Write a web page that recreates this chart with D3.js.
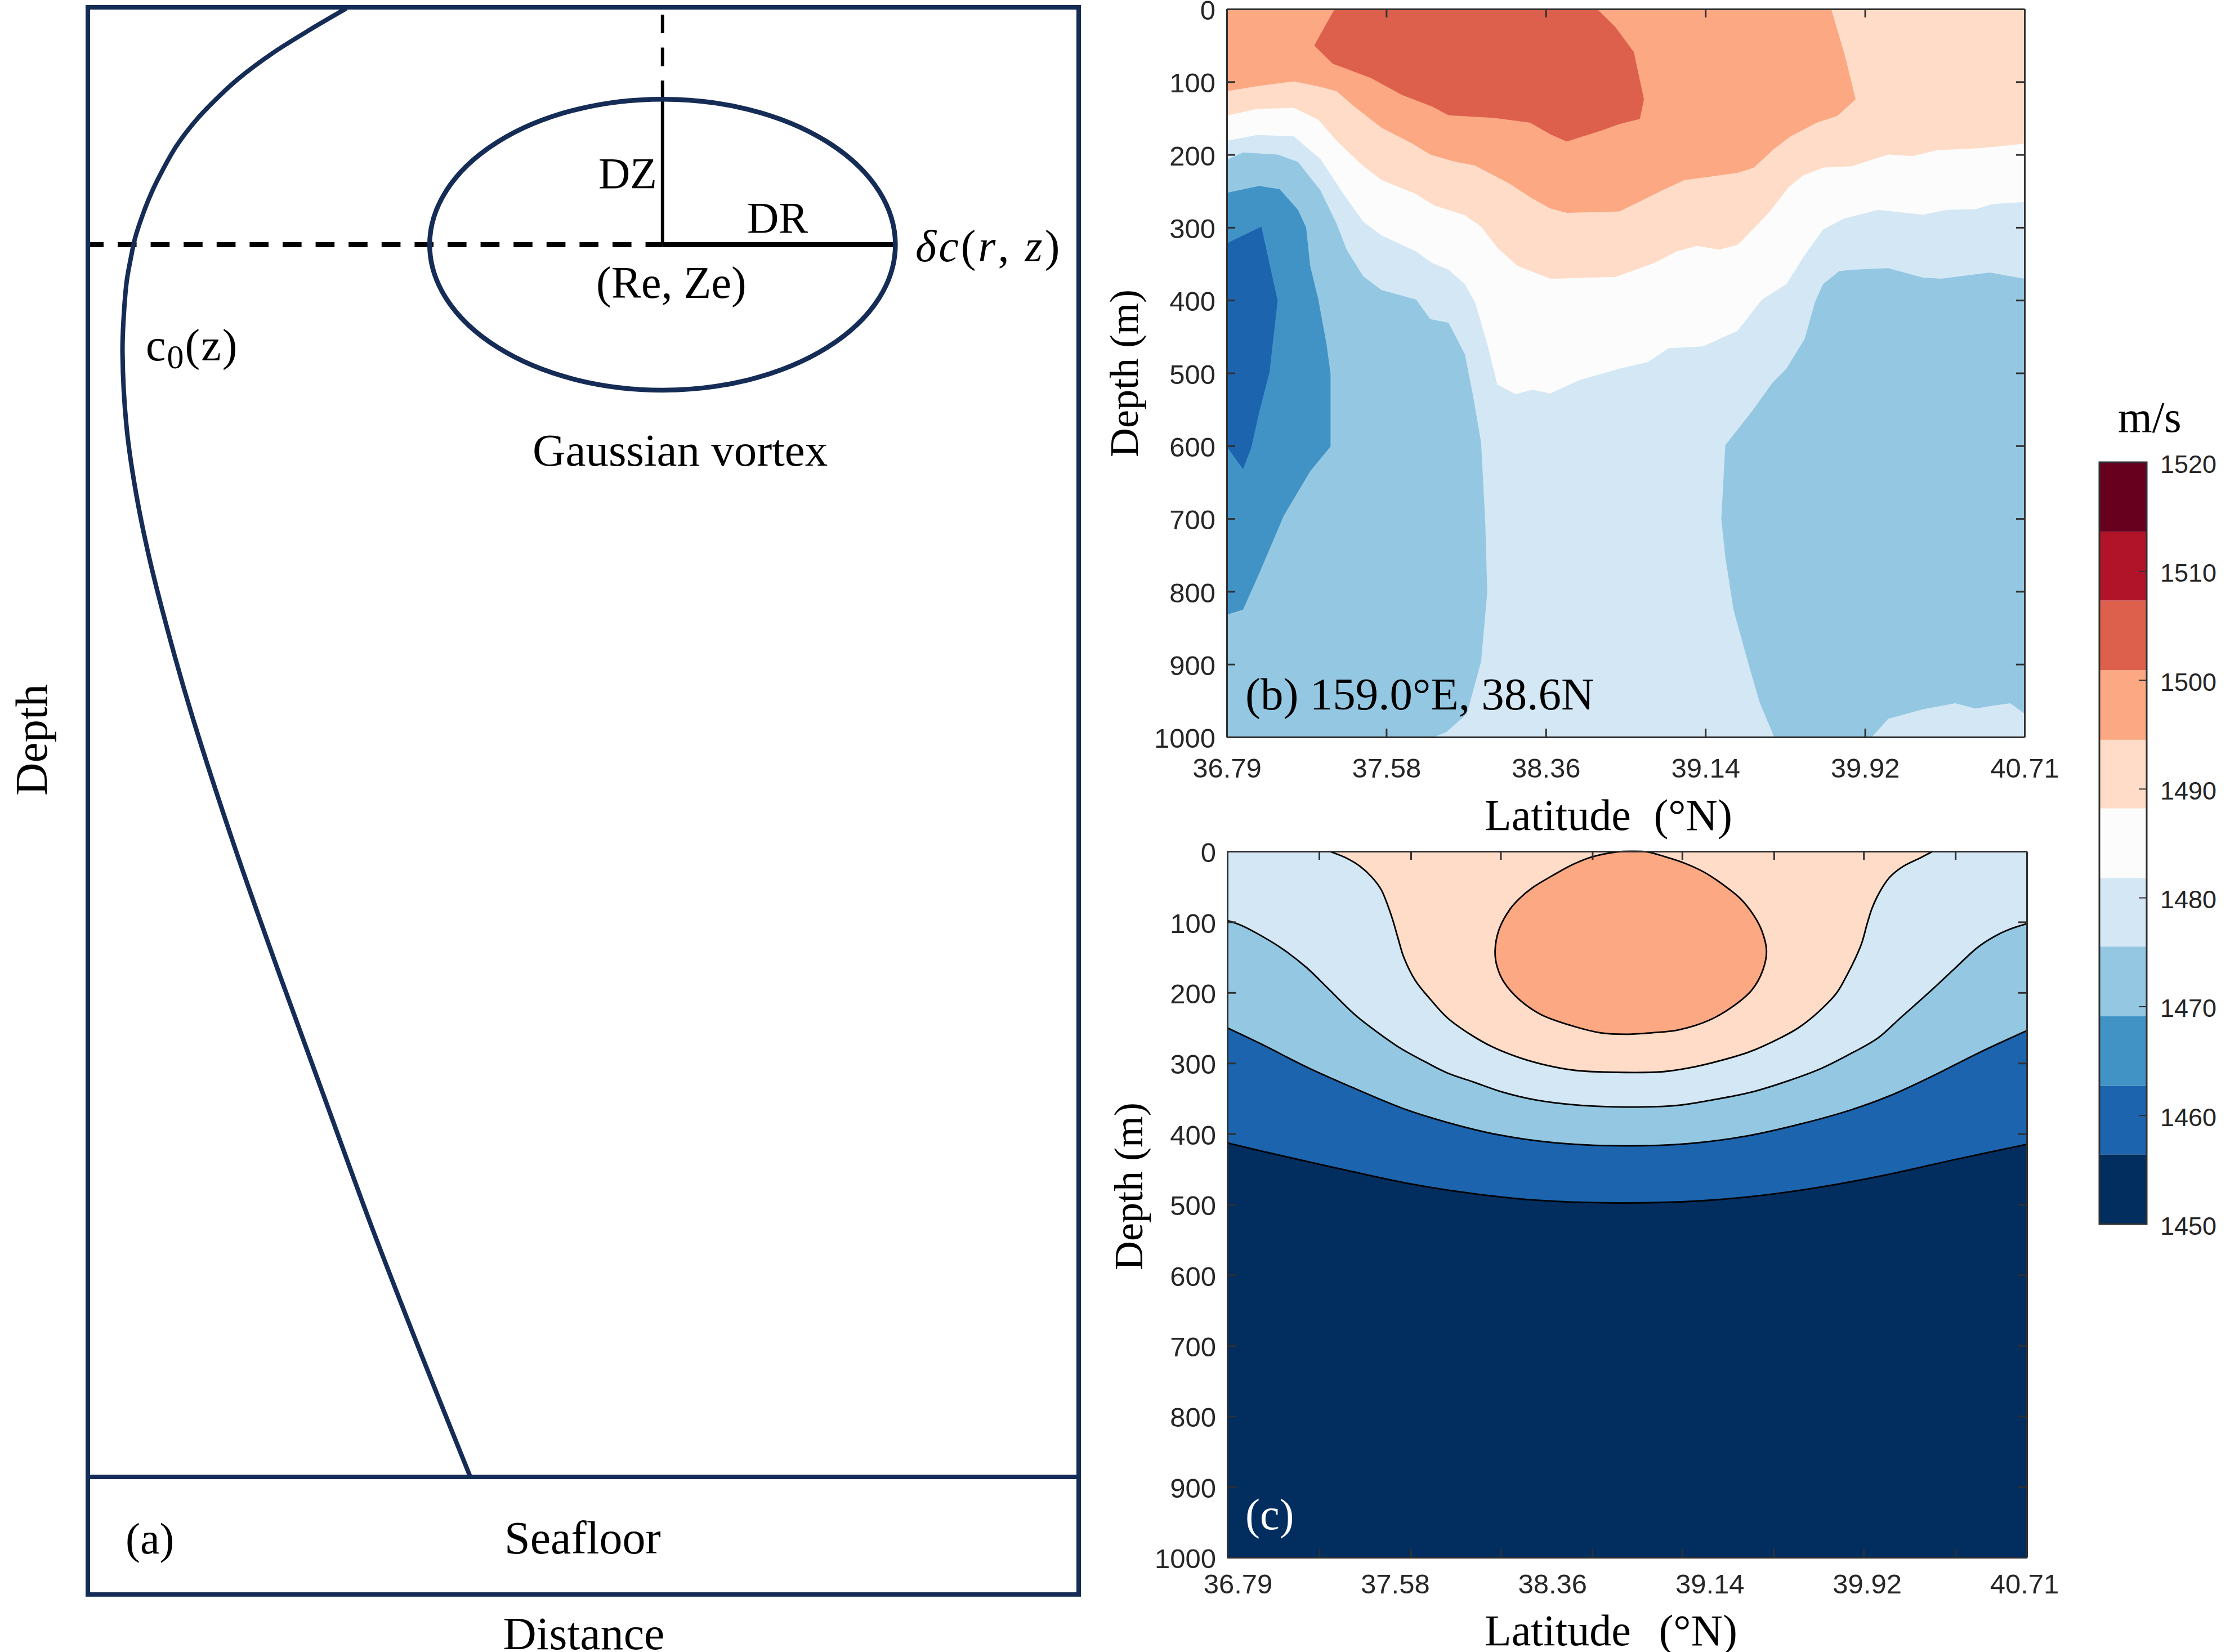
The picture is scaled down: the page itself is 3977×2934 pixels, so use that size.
<!DOCTYPE html>
<html>
<head>
<meta charset="utf-8">
<script src="https://cdn.jsdelivr.net/npm/d3@7"></script>
<style>
  body { margin: 0; background: #fff; }
  text { font-family: "Liberation Serif", serif; fill: #000; white-space: pre; }
  .tick text { font-family: "Liberation Sans", sans-serif; font-size: 49px; fill: #262626; }
  .cbar-label { font-family: "Liberation Sans", sans-serif; font-size: 45px; fill: #262626; }
</style>
</head>
<body>
<svg id="fig" width="3977" height="2934"></svg>
<script>
// colour bands, low to high, and their edges in m/s
const bandColors = ["#022d5f", "#1c64ae", "#4193c6", "#94c8e2", "#d4e7f4", "#fcfcfc", "#fedcc8", "#fba883", "#dc604c", "#b11429", "#67001f"];
const bandEdges = [1450, 1456.4, 1462.7, 1469.1, 1475.5, 1481.8, 1488.2, 1494.5, 1500.9, 1507.3, 1513.6, 1520];
const cbarTicks = [1450, 1460, 1470, 1480, 1490, 1500, 1510, 1520];

const latTicksB = [36.79, 37.574, 38.358, 39.142, 39.926, 40.71];
const latLabels = ["36.79", "37.58", "38.36", "39.14", "39.92", "40.71"];
const latTicksC = [36.79, 37.24, 37.69, 38.13, 38.58, 39.02, 39.47, 39.91, 40.36];
const depthTicks = [0, 100, 200, 300, 400, 500, 600, 700, 800, 900, 1000];

// panel (a) schematic, both axes in percent of the box above the seafloor
const c0Profile = [[26.08, 0.08], [22.4, 1.53], [18.6, 3.14], [15.17, 4.87], [12.9, 6.28], [10.85, 7.74], [8.92, 9.46], [7.61, 11.0], [6.48, 12.53], [5.63, 13.95], [4.77, 15.7],
  [4.32, 17.13], [3.92, 18.66], [3.6, 21.3], [3.5, 23.5], [3.9, 28.5], [4.85, 33.0], [6.25, 37.6], [8.75, 44.1], [10.7, 48.6], [14.9, 57.3], [19.5, 66.1], [24.1, 74.6], [28.6, 82.9], [33.2, 90.9], [38.6, 100]];
const vortexCentre = [58, 16.15];
const vortexRadius = [23.5, 9.9];
const boxBottom = 108;

// panel (b) filled contours, [latitude, depth]
const bRed = [[37.32, 0], [37.28, 20], [37.22, 50], [37.31, 75], [37.50, 95], [37.65, 118], [37.80, 134], [37.88, 146], [38.10, 149.5], [38.28, 156], [38.38, 172], [38.46, 182],
  [38.62, 168], [38.72, 158], [38.82, 151], [38.84, 124], [38.79, 59], [38.70, 25], [38.61, 0]];
const bPeach = [[36.79, 113], [36.94, 106], [37.12, 99.4], [37.25, 107], [37.33, 113], [37.42, 134.5], [37.55, 163], [37.70, 184.5], [37.79, 200], [37.91, 209.6], [38.01, 215],
  [38.18, 240], [38.29, 260], [38.38, 274], [38.46, 280], [38.72, 278], [38.83, 263], [38.93, 249], [39.04, 235], [39.17, 230], [39.30, 225], [39.38, 218], [39.48, 192],
  [39.56, 175], [39.69, 156], [39.79, 147], [39.88, 124], [39.83, 66.5], [39.76, 0], [40.71, 0], [40.71, 1000], [36.79, 1000]];
const bWhite = [[36.79, 146.6], [36.94, 137], [37.12, 136], [37.24, 152], [37.33, 181], [37.45, 213], [37.55, 235], [37.72, 254], [37.81, 270], [37.96, 283], [38.04, 299],
  [38.12, 328], [38.22, 353], [38.38, 370.5], [38.70, 368], [38.89, 349], [39.00, 333], [39.10, 325.5], [39.21, 330.5], [39.30, 324], [39.45, 281], [39.55, 245], [39.62, 229],
  [39.72, 218], [39.86, 216], [40.04, 200], [40.16, 202], [40.28, 194], [40.50, 191], [40.71, 185], [40.71, 1000], [36.79, 1000]];
const bPale = [[36.79, 181], [36.94, 173], [37.12, 175], [37.25, 206], [37.36, 252.5], [37.46, 292], [37.55, 311], [37.72, 333], [37.80, 349], [37.88, 358], [37.96, 378],
  [38.01, 403], [38.07, 460], [38.12, 516], [38.21, 529], [38.29, 523], [38.38, 528], [38.53, 509], [38.72, 494], [38.86, 485], [38.96, 466], [39.13, 463.5], [39.30, 442],
  [39.42, 399], [39.54, 378], [39.63, 338], [39.72, 303], [39.82, 288], [39.99, 276], [40.21, 282.5], [40.33, 276], [40.47, 275], [40.55, 268], [40.71, 265], [40.71, 1000], [36.79, 1000]];
const bSkyLeft = [[36.79, 207], [36.87, 197], [37.04, 200], [37.14, 210], [37.25, 249], [37.33, 295], [37.38, 331], [37.46, 367], [37.55, 386], [37.72, 399], [37.79, 426], [37.88, 431],
  [37.96, 474], [38.00, 531], [38.04, 596], [38.06, 703], [38.07, 801], [38.04, 896], [37.97, 968], [37.87, 993], [37.81, 1000], [36.79, 1000]];
const bSkyRight = [[39.48, 1000], [39.41, 953.5], [39.35, 896], [39.28, 825], [39.24, 753], [39.22, 700], [39.24, 599], [39.37, 553], [39.47, 514], [39.54, 494], [39.63, 453], [39.68, 403],
  [39.72, 378], [39.80, 360], [39.87, 358], [40.04, 356], [40.21, 369], [40.30, 370.5], [40.54, 362], [40.71, 370.5], [40.71, 968], [40.64, 953.5], [40.55, 957], [40.47, 961],
  [40.37, 953.5], [40.21, 962], [40.04, 975], [39.96, 1000]];
const bMid = [[36.79, 252.5], [36.95, 243], [37.05, 247.5], [37.14, 276], [37.18, 300], [37.20, 353], [37.24, 399], [37.28, 460], [37.30, 501], [37.30, 601], [37.20, 635], [37.07, 696],
  [36.95, 775], [36.87, 825], [36.79, 832]];
const bDeep = [[36.79, 322], [36.96, 299], [37.04, 400.5], [37.00, 499], [36.95, 553], [36.91, 603], [36.87, 632], [36.79, 601]];

// panel (c) contour lines, [latitude, depth]
const cLine1 = [[36.79, 413], [37.07, 432], [37.38, 452], [37.69, 471], [38.00, 485], [38.30, 494], [38.70, 498], [39.11, 495], [39.42, 487], [39.73, 474], [40.04, 457], [40.35, 437], [40.71, 415]];
const cLine2 = [[36.79, 250], [36.95, 272], [37.19, 307], [37.40, 334], [37.65, 364], [37.87, 384], [38.12, 401.5], [38.37, 412], [38.70, 417], [39.05, 414], [39.34, 403], [39.61, 385.5],
  [39.85, 366], [40.04, 346], [40.25, 318], [40.47, 286], [40.71, 254]];
const cLine3 = [[36.79, 98], [36.86, 105], [36.95, 118.5], [37.06, 138], [37.18, 165], [37.28, 193], [37.42, 232.5], [37.53, 257], [37.64, 279], [37.75, 296.5], [37.87, 314], [38.00, 327],
  [38.14, 341], [38.30, 352], [38.49, 359], [38.70, 362], [38.99, 360], [39.17, 352], [39.36, 341], [39.54, 325], [39.69, 309], [39.83, 289], [39.98, 264.5], [40.09, 236], [40.23, 200],
  [40.36, 165], [40.469, 136], [40.555, 120], [40.629, 110], [40.71, 102.5]];
const cLine4 = [[37.29, 0], [37.37, 9], [37.44, 21], [37.50, 37], [37.545, 54.5], [37.576, 76], [37.601, 97], [37.626, 122], [37.656, 150.6], [37.712, 183], [37.79, 211], [37.87, 236], [37.98, 259],
  [38.09, 277], [38.23, 293], [38.37, 304], [38.49, 310], [38.70, 313], [38.93, 312], [39.05, 307], [39.20, 297], [39.35, 284], [39.50, 264.5], [39.59, 250], [39.69, 227], [39.779, 200],
  [39.828, 175.5], [39.871, 150.6], [39.902, 129], [39.926, 104], [39.951, 81], [39.988, 58], [40.037, 37], [40.10, 22], [40.19, 9], [40.25, 0]];
const cLoop = [[38.77, 0], [38.85, 0.9], [38.935, 7.5], [39.03, 16.5], [39.125, 29], [39.22, 47], [39.306, 67], [39.372, 91], [39.413, 114], [39.434, 141.5], [39.415, 169], [39.363, 196], [39.277, 218],
  [39.154, 239], [39.00, 253], [38.87, 257], [38.755, 259], [38.62, 257], [38.479, 247], [38.327, 231], [38.222, 210], [38.146, 185], [38.113, 163.4], [38.103, 141.5], [38.122, 111], [38.175, 82.4],
  [38.222, 67], [38.289, 51], [38.384, 34.4], [38.479, 19.3], [38.574, 8.3], [38.70, 0.9]];

const navy = "#152c56";
const axisColor = "#303030";
const svg = d3.select("#fig");

function addText(str, x, y, size, opts) {
    opts = opts || {};
    let t = svg.append("text")
        .attr("x", x).attr("y", y)
        .attr("font-size", size)
        .attr("text-anchor", opts.anchor || "start")
        .style("fill", opts.fill || "#000")
        .attr("transform", opts.rotate ? "rotate(-90," + x + "," + y + ")" : null)
        .text(str);
    if (opts.wordSpacing) t.style("word-spacing", opts.wordSpacing + "px");
    if (opts.letterSpacing) t.style("letter-spacing", opts.letterSpacing + "px");
    return t;
}

// ---------- panel (a) ----------
function drawSchematic() {
    let x = d3.scaleLinear().domain([0, 100]).range([156, 1916]);
    let y = d3.scaleLinear().domain([0, 100]).range([13, 2623]);
    let g = svg.append("g");

    // centre lines sit under the vortex outline
    let cx = x(vortexCentre[0]), cy = y(vortexCentre[1]);
    let rx = x(vortexCentre[0] + vortexRadius[0]) - cx;
    let ry = y(vortexCentre[1] + vortexRadius[1]) - cy;

    g.append("line").attr("x1", x(0)).attr("x2", cx).attr("y1", cy).attr("y2", cy)
        .attr("stroke", "#000").attr("stroke-width", 9)
        .attr("stroke-dasharray", "33.6 25").attr("stroke-dashoffset", 5.6);
    g.append("line").attr("x1", cx).attr("x2", x(vortexCentre[0] + vortexRadius[0])).attr("y1", cy).attr("y2", cy)
        .attr("stroke", "#000").attr("stroke-width", 9);
    g.append("line").attr("x1", cx).attr("x2", cx).attr("y1", 26).attr("y2", y(vortexCentre[1] - vortexRadius[1]))
        .attr("stroke", "#000").attr("stroke-width", 6).attr("stroke-dasharray", "33 25.5");
    g.append("line").attr("x1", cx).attr("x2", cx).attr("y1", y(vortexCentre[1] - vortexRadius[1])).attr("y2", cy)
        .attr("stroke", "#000").attr("stroke-width", 6);

    g.append("ellipse").attr("cx", cx).attr("cy", cy).attr("rx", rx).attr("ry", ry)
        .attr("fill", "none").attr("stroke", navy).attr("stroke-width", 8.5);

    let line = d3.line().x(d => x(d[0])).y(d => y(d[1])).curve(d3.curveCatmullRom.alpha(0.5));
    g.append("path").attr("d", line(c0Profile))
        .attr("fill", "none").attr("stroke", navy).attr("stroke-width", 8);

    g.append("rect").attr("x", x(0)).attr("y", y(0))
        .attr("width", x(100) - x(0)).attr("height", y(boxBottom) - y(0))
        .attr("fill", "none").attr("stroke", navy).attr("stroke-width", 8);
    g.append("line").attr("x1", x(0)).attr("x2", x(100)).attr("y1", y(100)).attr("y2", y(100))
        .attr("stroke", navy).attr("stroke-width", 8);

    addText("DZ", 1167, 334, 78, {anchor: "end"});
    addText("DR", 1327, 413, 78);
    addText("(Re, Ze)", 1059, 529, 80);
    addText("Gaussian vortex", 946, 827, 81);
    addText("Seafloor", 1035, 2759, 82, {anchor: "middle"});
    addText("(a)", 223, 2759, 78);
    addText("Distance", 1037, 2929, 82, {anchor: "middle"});
    addText("Depth", 83, 1314, 81, {anchor: "middle", rotate: true});

    let dc = addText("", 1626, 464, 80, {letterSpacing: 4});
    dc.append("tspan").style("font-style", "italic").text("δc");
    dc.append("tspan").text("(");
    dc.append("tspan").style("font-style", "italic").text("r");
    dc.append("tspan").text(", ");
    dc.append("tspan").style("font-style", "italic").text("z");
    dc.append("tspan").text(")");

    let c0 = addText("", 259, 640, 80, {letterSpacing: 2});
    c0.append("tspan").text("c");
    c0.append("tspan").attr("font-size", 60).attr("dy", 14).text("0");
    c0.append("tspan").attr("dy", -14).text("(z)");
}

function styleAxis(a) {
    a.selectAll("path").attr("stroke", axisColor).attr("stroke-width", 3);
    a.selectAll("line").attr("stroke", axisColor).attr("stroke-width", 3);
    a.selectAll("text").attr("dy", "0.38em");
}

// inward ticks on all four sides, like a boxed matlab axes
function drawFrame(x, y, xTicks, top, bottom, left, right) {
    let frame = svg.append("g");
    frame.append("g").attr("transform", "translate(0," + top + ")")
        .call(d3.axisTop(x).tickValues(xTicks).tickSizeInner(-15).tickSizeOuter(0).tickFormat(""))
        .call(styleAxis);
    frame.append("g").attr("transform", "translate(" + right + ",0)")
        .call(d3.axisRight(y).tickValues(depthTicks).tickSizeInner(-15).tickSizeOuter(0).tickFormat(""))
        .call(styleAxis);
    frame.append("g").attr("transform", "translate(" + left + ",0)")
        .call(d3.axisLeft(y).tickValues(depthTicks).tickSizeInner(-15).tickSizeOuter(0).tickPadding(20).tickFormat(d3.format("d")))
        .call(styleAxis);
    return frame;
}

// ---------- panel (b) ----------
function drawObserved() {
    let left = 2179, right = 3596, top = 16, bottom = 1309;
    let x = d3.scaleLinear().domain([36.79, 40.71]).range([left, right]);
    let y = d3.scaleLinear().domain([0, 1000]).range([top, bottom]);
    let poly = d3.line().x(d => x(d[0])).y(d => y(d[1]));

    svg.append("rect").attr("x", left).attr("y", top).attr("width", right - left).attr("height", bottom - top)
        .attr("fill", bandColors[7]);

    let regions = [[bPeach, 6], [bWhite, 5], [bPale, 4], [bSkyLeft, 3], [bSkyRight, 3], [bMid, 2], [bDeep, 1], [bRed, 8]];
    svg.append("g").selectAll("path").data(regions).join("path")
        .attr("d", d => poly(d[0]) + "Z")
        .attr("fill", d => bandColors[d[1]]);

    let frame = drawFrame(x, y, latTicksB, top, bottom, left, right);
    let xAxis = frame.append("g").attr("transform", "translate(0," + bottom + ")")
        .call(d3.axisBottom(x).tickValues(latTicksB).tickSizeInner(-15).tickSizeOuter(0).tickPadding(37)
            .tickFormat((d, i) => latLabels[i]));
    xAxis.selectAll("path").attr("stroke", axisColor).attr("stroke-width", 3);
    xAxis.selectAll("line").attr("stroke", axisColor).attr("stroke-width", 3);

    addText("(b) 159.0°E, 38.6N", 2212, 1260, 81);
    addText("Latitude   (°N)", 2637, 1474, 78, {wordSpacing: -6});
    addText("Depth (m)", 2021, 663, 72, {anchor: "middle", rotate: true});
}

// ---------- panel (c) ----------
function drawModel() {
    let left = 2180, right = 3600, top = 1512, bottom = 2766;
    let x = d3.scaleLinear().domain([36.79, 40.71]).range([left, right]);
    let y = d3.scaleLinear().domain([0, 1000]).range([top, bottom]);
    let curve = d3.line().x(d => x(d[0])).y(d => y(d[1])).curve(d3.curveCatmullRom.alpha(0.5));
    let loop = d3.line().x(d => x(d[0])).y(d => y(d[1])).curve(d3.curveCatmullRomClosed.alpha(0.5));
    let toTop = "L" + x(40.71) + "," + y(0) + "L" + x(36.79) + "," + y(0) + "Z";

    svg.append("rect").attr("x", left).attr("y", top).attr("width", right - left).attr("height", bottom - top)
        .attr("fill", bandColors[0]);

    let levels = [[cLine1, 1, toTop], [cLine2, 3, toTop], [cLine3, 4, toTop], [cLine4, 6, "Z"]];
    let g = svg.append("g");
    g.selectAll("path.fill").data(levels).join("path").attr("class", "fill")
        .attr("d", d => curve(d[0]) + d[2])
        .attr("fill", d => bandColors[d[1]]);
    g.selectAll("path.line").data(levels).join("path").attr("class", "line")
        .attr("d", d => curve(d[0]))
        .attr("fill", "none").attr("stroke", "#000").attr("stroke-width", 2.8);
    g.append("path").attr("d", loop(cLoop))
        .attr("fill", bandColors[7]).attr("stroke", "#000").attr("stroke-width", 2.8);

    let frame = drawFrame(x, y, latTicksC, top, bottom, left, right);
    let xAxis = frame.append("g").attr("transform", "translate(0," + bottom + ")")
        .call(d3.axisBottom(x).tickValues(latTicksC).tickSizeInner(-15).tickSizeOuter(0).tickFormat(""));
    xAxis.selectAll("path").attr("stroke", axisColor).attr("stroke-width", 3);
    xAxis.selectAll("line").attr("stroke", axisColor).attr("stroke-width", 3);

    // the labels in this panel do not line up with its ticks
    let labelPos = d3.scalePoint().domain(latLabels).range([2199, 3596]);
    svg.append("g").selectAll("text").data(latLabels).join("text")
        .attr("x", d => labelPos(d)).attr("y", 2830)
        .attr("text-anchor", "middle")
        .style("font-family", '"Liberation Sans", sans-serif').attr("font-size", 49)
        .style("fill", "#262626")
        .text(d => d);

    addText("(c)", 2212, 2716, 78, {fill: "#ffffff"});
    addText("Latitude   (°N)", 2637, 2922, 78, {wordSpacing: -3});
    addText("Depth (m)", 2029, 2107, 72, {anchor: "middle", rotate: true});
}

// ---------- colour bar ----------
function drawColorbar() {
    let left = 3729, right = 3813, top = 821, bottom = 2174;
    let y = d3.scaleLinear().domain([1450, 1520]).range([bottom, top]);

    svg.append("g").selectAll("rect").data(bandColors).join("rect")
        .attr("x", left).attr("width", right - left)
        .attr("y", (d, i) => y(bandEdges[i + 1]))
        .attr("height", (d, i) => y(bandEdges[i]) - y(bandEdges[i + 1]))
        .attr("fill", d => d);

    let axis = svg.append("g").attr("transform", "translate(" + right + ",0)")
        .call(d3.axisRight(y).tickValues(cbarTicks.slice(1, -1)).tickSizeInner(-14).tickSizeOuter(0).tickFormat(""));
    axis.selectAll("line").attr("stroke", axisColor).attr("stroke-width", 2);
    axis.select("path").remove();

    svg.append("rect").attr("x", left).attr("y", top).attr("width", right - left).attr("height", bottom - top)
        .attr("fill", "none").attr("stroke", axisColor).attr("stroke-width", 3);

    svg.append("g").selectAll("text").data(cbarTicks).join("text")
        .attr("class", "cbar-label")
        .attr("x", 3837).attr("y", d => y(d) + 19)
        .text(d => d);

    addText("m/s", 3762, 767, 78);
}

drawSchematic();
drawObserved();
drawModel();
drawColorbar();
</script>
</body>
</html>
